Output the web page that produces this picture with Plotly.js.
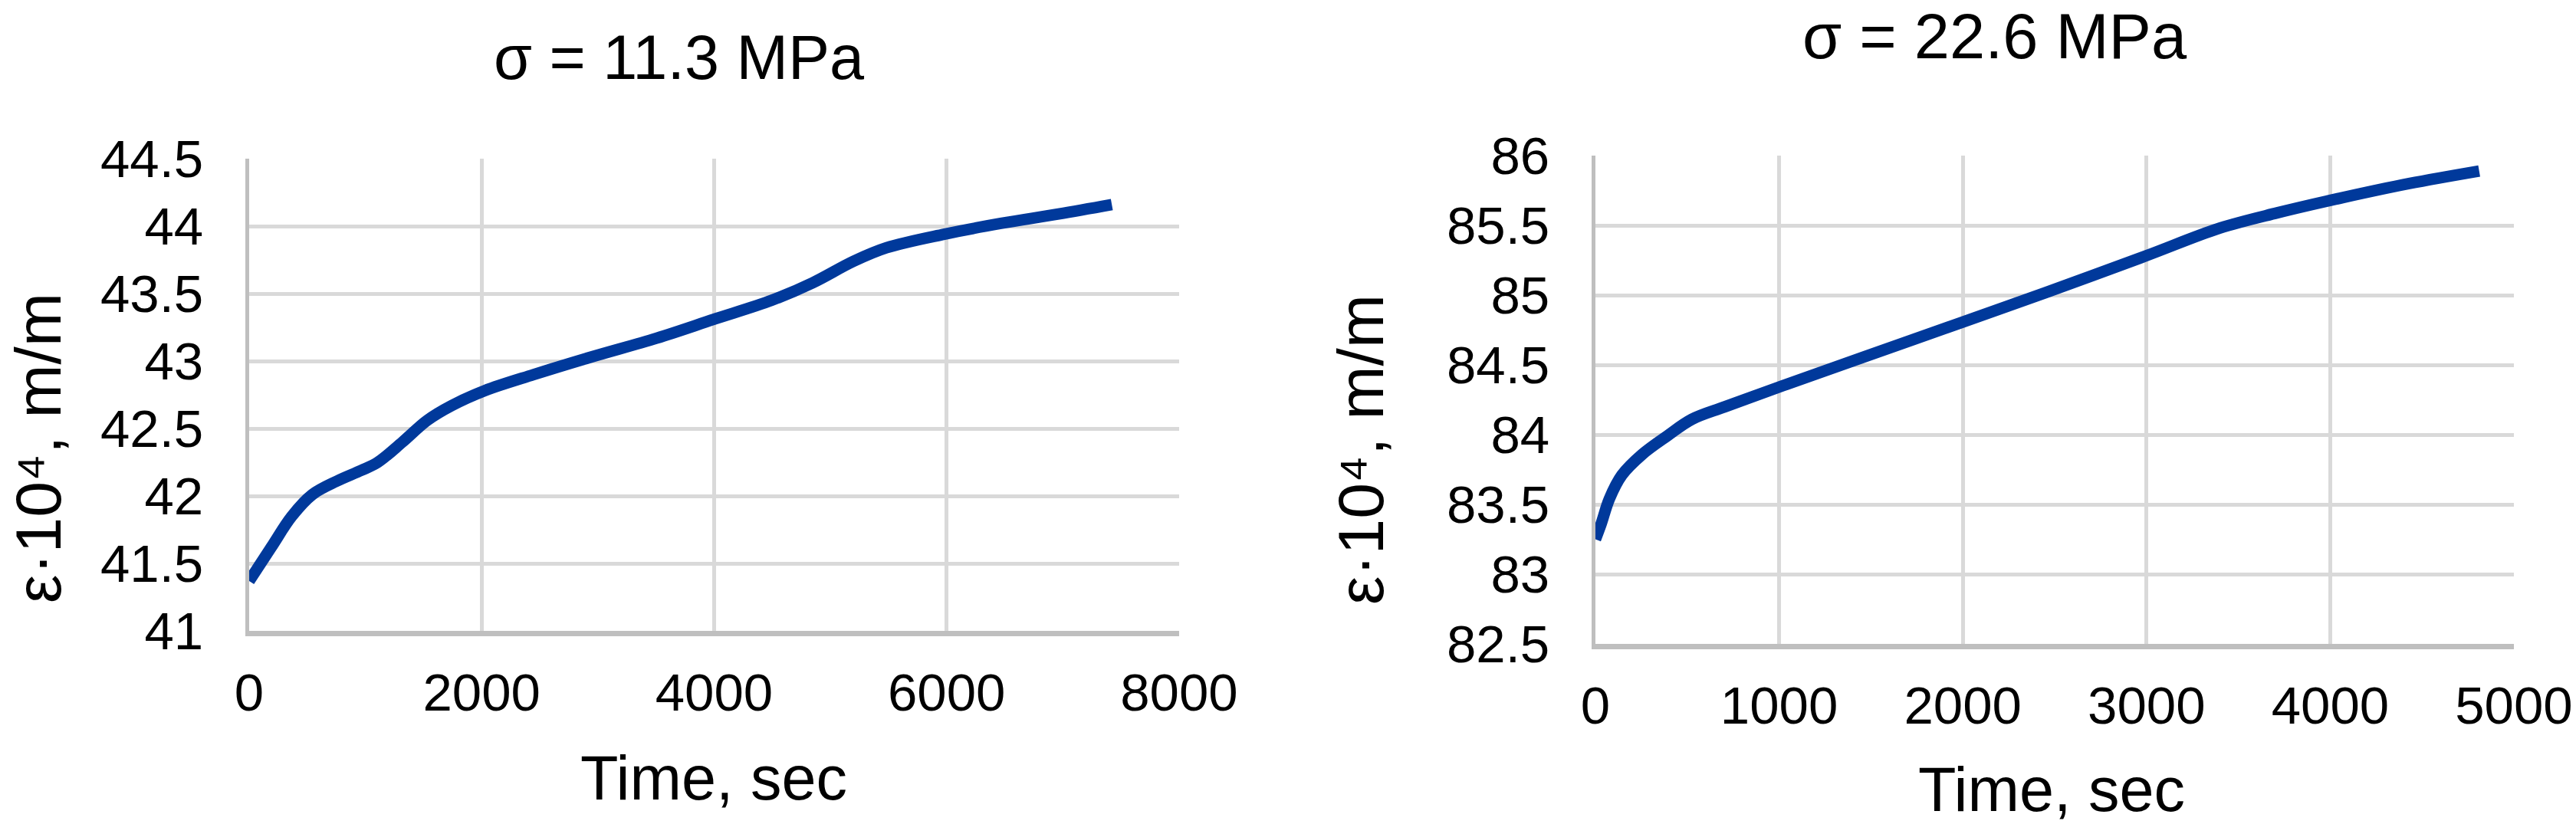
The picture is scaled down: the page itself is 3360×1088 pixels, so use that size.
<!DOCTYPE html>
<html>
<head>
<meta charset="utf-8">
<script src="https://cdn.plot.ly/plotly-3.0.1.min.js"></script>
<style>html,body{margin:0;padding:0;background:#fff;}#chart{width:3360px;height:1088px;}</style>
</head>
<body>
<div id="chart"></div>
<script>
// ---- data ----
const leftTime = [0, 190, 367, 543, 755, 966, 1107, 1319, 1531, 1742, 2025, 2448, 2942, 3506, 4000, 4494, 4847, 5200, 5483, 5977, 6466, 6963, 7421];
const leftStrain = [41.37, 41.62, 41.85, 42.01, 42.11, 42.19, 42.25, 42.40, 42.56, 42.67, 42.78, 42.90, 43.03, 43.17, 43.31, 43.45, 43.58, 43.74, 43.84, 43.94, 44.02, 44.09, 44.16];

const rightTime = [0, 31, 76, 144, 256, 390, 525, 705, 1019, 1468, 2006, 2455, 2994, 3398, 3712, 4071, 4430, 4811];
const rightStrain = [83.25, 83.36, 83.54, 83.71, 83.86, 83.99, 84.11, 84.20, 84.35, 84.56, 84.81, 85.02, 85.28, 85.48, 85.59, 85.70, 85.80, 85.89];

const leftXTicks = [0, 2000, 4000, 6000, 8000];
const leftXTickText = ['0', '2000', '4000', '6000', '8000'];
const leftYTicks = [41, 41.5, 42, 42.5, 43, 43.5, 44, 44.5];
const leftYTickText = ['41', '41.5', '42', '42.5', '43', '43.5', '44', '44.5'];

const rightXTicks = [0, 1000, 2000, 3000, 4000, 5000];
const rightXTickText = ['0', '1000', '2000', '3000', '4000', '5000'];
const rightYTicks = [82.5, 83, 83.5, 84, 84.5, 85, 85.5, 86];
const rightYTickText = ['82.5', '83', '83.5', '84', '84.5', '85', '85.5', '86'];

const titleLeft = 'σ = 11.3 MPa';
const titleRight = 'σ = 22.6 MPa';
const xTitle = 'Time, sec';
const yTitle = 'ε·10⁴, m/m';

// ---- styling ----
const FONT = 'Liberation Sans, Arial, sans-serif';
const lineColor = '#00399b';
const gridColor = '#d9d9d9';
const axisColor = '#bfbfbf';

const W = 3360, H = 1088;
function dx(a, b) { return [a / W, b / W]; }
function dy(top, bottom) { return [1 - bottom / H, 1 - top / H]; }

const traces = [
  { x: leftTime, y: leftStrain, xaxis: 'x', yaxis: 'y', type: 'scatter', mode: 'lines',
    line: { color: lineColor, width: 15, shape: 'spline', smoothing: 1 }, hoverinfo: 'skip', showlegend: false },
  { x: rightTime, y: rightStrain, xaxis: 'x2', yaxis: 'y2', type: 'scatter', mode: 'lines',
    line: { color: lineColor, width: 15, shape: 'spline', smoothing: 1 }, hoverinfo: 'skip', showlegend: false }
];

function xAxis(domain, range, vals, text, anchor) {
  return {
    domain: domain, range: range, anchor: anchor,
    tickmode: 'array', tickvals: vals, ticktext: text,
    showgrid: true, gridcolor: gridColor, gridwidth: 5,
    showline: true, linecolor: axisColor, linewidth: 7,
    zeroline: false, ticks: '', ticklabelstandoff: 14,
    tickfont: { family: FONT, size: 69, color: '#000' }, fixedrange: true
  };
}
function yAxis(domain, range, vals, text, anchor) {
  return {
    domain: domain, range: range, anchor: anchor,
    tickmode: 'array', tickvals: vals, ticktext: text,
    showgrid: true, gridcolor: gridColor, gridwidth: 5,
    showline: true, linecolor: axisColor, linewidth: 5,
    zeroline: false, ticks: '', ticklabelstandoff: 41,
    tickfont: { family: FONT, size: 69, color: '#000' }, fixedrange: true
  };
}

const layout = {
  width: W, height: H,
  margin: { l: 0, r: 0, t: 0, b: 0 },
  paper_bgcolor: '#fff', plot_bgcolor: '#fff',
  showlegend: false,
  font: { family: FONT, color: '#000' },
  xaxis: xAxis(dx(325, 1538), [0, 8000], leftXTicks, leftXTickText, 'y'),
  yaxis: yAxis(dy(207, 823), [41, 44.5], leftYTicks, leftYTickText, 'x'),
  xaxis2: xAxis(dx(2081, 3279), [0, 5000], rightXTicks, rightXTickText, 'y2'),
  yaxis2: yAxis(dy(203, 840), [82.5, 86], rightYTicks, rightYTickText, 'x2'),
  annotations: [
    { text: titleLeft, xref: 'paper', yref: 'paper', x: 886 / W, y: 1 - 75 / H,
      xanchor: 'center', yanchor: 'middle', showarrow: false, font: { family: FONT, size: 81, color: '#000' } },
    { text: titleRight, xref: 'paper', yref: 'paper', x: 2602 / W, y: 1 - 48 / H,
      xanchor: 'center', yanchor: 'middle', showarrow: false, font: { family: FONT, size: 83, color: '#000' } },
    { text: xTitle, xref: 'paper', yref: 'paper', x: 931 / W, y: 1 - 1015 / H,
      xanchor: 'center', yanchor: 'middle', showarrow: false, font: { family: FONT, size: 81, color: '#000' } },
    { text: xTitle, xref: 'paper', yref: 'paper', x: 2676 / W, y: 1 - 1030 / H,
      xanchor: 'center', yanchor: 'middle', showarrow: false, font: { family: FONT, size: 81, color: '#000' } },
    { text: yTitle, xref: 'paper', yref: 'paper', x: 50 / W, y: 1 - 585 / H, textangle: -90,
      xanchor: 'center', yanchor: 'middle', showarrow: false, font: { family: FONT, size: 84, color: '#000' } },
    { text: yTitle, xref: 'paper', yref: 'paper', x: 1775 / W, y: 1 - 587 / H, textangle: -90,
      xanchor: 'center', yanchor: 'middle', showarrow: false, font: { family: FONT, size: 84, color: '#000' } }
  ]
};

Plotly.newPlot('chart', traces, layout, { staticPlot: true, displayModeBar: false });
</script>
</body>
</html>
